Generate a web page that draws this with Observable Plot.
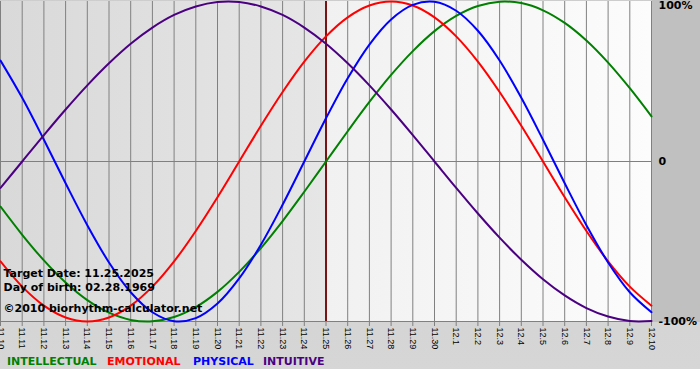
<!DOCTYPE html>
<html>
<head>
<meta charset="utf-8">
<script src="https://cdn.jsdelivr.net/npm/d3@7"></script>
<script src="https://cdn.jsdelivr.net/npm/@observablehq/plot@0.6"></script>
<style>
  body { margin: 0; background: #ffffff; }
  #wrap { position: relative; width: 700px; height: 380px; overflow: hidden; }
  #bg { position: absolute; left: 0; top: 0; width: 700px; height: 369px; background: linear-gradient(#cdcdcd, #d6d6d6); }
  #strip { position: absolute; left: 652px; top: 0; width: 48px; height: 322px; background: #c0c0c0; }
  #chart { position: absolute; left: 0; top: 0; }
  #legend { position: absolute; left: 0; top: 355px; width: 700px; height: 14px;
            font: bold 11px "DejaVu Sans", Verdana, sans-serif; line-height: 14px; }
  #legend span { position: absolute; top: 0; white-space: nowrap; }
</style>
</head>
<body>
<div id="wrap">
  <div id="bg"></div>
  <div id="strip"></div>
  <div id="chart"></div>
  <div id="legend"></div>
</div>
<script>
// Day labels (11.10 .. 12.10)
const dayLabels = ["11.10","11.11","11.12","11.13","11.14","11.15","11.16","11.17","11.18","11.19","11.20",
  "11.21","11.22","11.23","11.24","11.25","11.26","11.27","11.28","11.29","11.30",
  "12.1","12.2","12.3","12.4","12.5","12.6","12.7","12.8","12.9","12.10"];
const targetLabel = "11.25";

// Series values (-1 .. 1) per day
const intellectual = [-0.282,-0.458,-0.618,-0.756,-0.866,-0.945,-0.990,-0.999,-0.972,-0.910,-0.815,-0.690,-0.541,-0.372,-0.189,0,0.189,0.372,0.541,0.690,0.815,0.910,0.972,0.999,0.990,0.945,0.866,0.756,0.618,0.458,0.282];
const emotional = [-0.624,-0.782,-0.901,-0.975,-1,-0.975,-0.901,-0.782,-0.624,-0.434,-0.223,0,0.223,0.434,0.624,0.782,0.901,0.975,1,0.975,0.901,0.782,0.624,0.434,0.223,0,-0.223,-0.434,-0.624,-0.782,-0.901];
const physical = [0.631,0.398,0.136,-0.136,-0.398,-0.631,-0.817,-0.942,-0.998,-0.979,-0.888,-0.731,-0.520,-0.270,0,0.270,0.520,0.731,0.888,0.979,0.998,0.942,0.817,0.631,0.398,0.136,-0.136,-0.398,-0.631,-0.817,-0.942];
const intuitive = [-0.165,0,0.165,0.325,0.476,0.614,0.736,0.837,0.916,0.969,0.997,0.997,0.969,0.916,0.837,0.736,0.614,0.476,0.325,0.165,0,-0.165,-0.325,-0.476,-0.614,-0.736,-0.837,-0.916,-0.969,-0.997,-0.997];

const seriesNames = ["INTELLECTUAL","EMOTIONAL","PHYSICAL","INTUITIVE"];
const seriesColors = ["#008000","#ff0000","#0000ff","#4b0082"];
const seriesValues = [intellectual, emotional, physical, intuitive];

const yTickValues = [1, 0, -1];
const yTickLabels = ["100%", "0", "-100%"];

const infoLines = ["Target Date: 11.25.2025", "Day of birth: 02.28.1969", "\u00a92010 biorhythm-calculator.net"];

// ---- build ----
const idx = dayLabels.map((_, i) => i);
const tIdx = dayLabels.indexOf(targetLabel);
const last = dayLabels.length - 1;

const rows = [];
seriesValues.forEach((vals, s) => vals.forEach((v, i) => rows.push({s, i, v})));

const boldFont = "DejaVu Sans, Verdana, sans-serif";

const lineMarks = seriesValues.map((vals, s) =>
  Plot.line(rows.filter(r => r.s === s), {x: "i", y: "v", stroke: seriesColors[s], strokeWidth: 2, curve: "catmull-rom"})
);

const chart = Plot.plot({
  width: 700,
  height: 350,
  marginLeft: 0,
  marginRight: 49,
  marginTop: 1,
  marginBottom: 29,
  style: {background: "transparent", fontFamily: "Liberation Sans, Arial, sans-serif", fontSize: "9px", overflow: "visible"},
  x: {domain: [0, last], axis: null, label: null},
  y: {domain: [-1, 1], axis: null, label: null},
  marks: [
    Plot.rect([0], {x1: 0, x2: tIdx, y1: -1, y2: 1, fill: "url(#gLeft)"}),
    Plot.rect([0], {x1: tIdx, x2: last, y1: -1, y2: 1, fill: "url(#gRight)"}),
    Plot.ruleX(idx, {x: d => d, y1: -1, y2: 1, stroke: "#808080", strokeWidth: 1}),
    Plot.ruleY([0, -1], {x1: 0, x2: last, stroke: "#808080", strokeWidth: 1}),
    Plot.axisX({ticks: idx, tickFormat: i => dayLabels[i], tickRotate: 90, tickSize: 5, tickPadding: 1, label: null,
      stroke: "#808080", fill: "black", fontSize: 9, fontFamily: "Liberation Sans, Arial, sans-serif"}),
    Plot.ruleX([tIdx], {x: d => d, y1: -1, y2: 1, stroke: "#7a1414", strokeWidth: 2}),
    ...lineMarks,
    Plot.text([yTickValues[0]], {x: last, y: d => d, text: () => yTickLabels[0], dx: 7, textAnchor: "start", lineAnchor: "top",
      fontWeight: "bold", fontSize: 11, fontFamily: boldFont, fill: "black", clip: false}),
    Plot.text(yTickValues.slice(1), {x: last, y: d => d, text: (d, i) => yTickLabels[i + 1], dx: 7, textAnchor: "start", lineAnchor: "middle",
      fontWeight: "bold", fontSize: 11, fontFamily: boldFont, fill: "black", clip: false}),
    Plot.text([infoLines[0]], {frameAnchor: "top-left", text: d => d, dx: 3, dy: 275, lineAnchor: "bottom", textAnchor: "start",
      fontWeight: "bold", fontSize: 11, fontFamily: boldFont, fill: "black"}),
    Plot.text([infoLines[1]], {frameAnchor: "top-left", text: d => d, dx: 3, dy: 289, lineAnchor: "bottom", textAnchor: "start",
      fontWeight: "bold", fontSize: 11, fontFamily: boldFont, fill: "black"}),
    Plot.text([infoLines[2]], {frameAnchor: "top-left", text: d => d, dx: 3, dy: 310, lineAnchor: "bottom", textAnchor: "start",
      fontWeight: "bold", fontSize: 11, fontFamily: boldFont, fill: "black"})
  ]
});

// gradients for the two background bands
const svg = chart.tagName.toLowerCase() === "svg" ? chart : chart.querySelector("svg");
const defs = d3.select(svg).insert("defs", ":first-child");
const gl = defs.append("linearGradient").attr("id", "gLeft").attr("x1", "0").attr("x2", "1").attr("y1", "0").attr("y2", "0");
gl.append("stop").attr("offset", "0").attr("stop-color", "#d9d9d9");
gl.append("stop").attr("offset", "1").attr("stop-color", "#e6e6e6");
const gr = defs.append("linearGradient").attr("id", "gRight").attr("x1", "0").attr("x2", "1").attr("y1", "0").attr("y2", "0");
gr.append("stop").attr("offset", "0").attr("stop-color", "#f1f1f1");
gr.append("stop").attr("offset", "1").attr("stop-color", "#fcfcfc");

document.getElementById("chart").appendChild(chart);

// legend
const legendX = [7, 107, 193, 263];
const legend = document.getElementById("legend");
seriesNames.forEach((n, s) => {
  const sp = document.createElement("span");
  sp.textContent = n;
  sp.style.left = legendX[s] + "px";
  sp.style.color = seriesColors[s];
  legend.appendChild(sp);
});
</script>
</body>
</html>
